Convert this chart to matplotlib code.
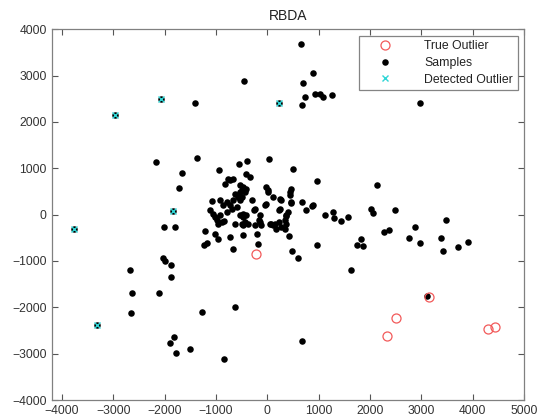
import matplotlib
matplotlib.use("Agg")
import matplotlib.pyplot as plt

plt.rcParams['font.family'] = ['Liberation Sans', 'DejaVu Sans']

# Projected samples (x, y)
sample_x = [
    -1400, -450, 650, 880, 700, 740, 670, 920, 1020, 1080, 1250, 2980,
    -2170, -1380, -1660, -1720, -945, -556, -390, 33, 500, 967, 2134,
    -2020, -1790, -2040, -1990, -1873, -1873, -2683, -2632, -2107, -2663,
    -1276, -640, -1815, -1900, -1788, -1510, -854, 670, 3115,
    1623, 591, 481, 416, 975, 1751, 1862, 1817, 2265, 2368, 2757, 2881,
    2965, 3387, 3426, 3471, 3710, 3905, 2019, 2057, 2479, 1117, 1278, 1298,
    1428, 1571, 877, 747, 468, 675, 889,
    -1218, -1023, -959, -1232, -1173, -732, -660, -473, -180, -212,
    -842, -634, -473,
    -1088, -926, -862, -796, -732, -667, -570, -537, -634,
    -1121, -1056, -1023, -990, -959, -893, -926,
    -796, -698, -601, -537, -473,
    -504, -537, -309, 14, 111, 241, 436, 469, -51, -18, 241, 403, 371,
    -245, -473, -407, -440, -504, -375, -245, -148, -115, 79, 111, 228,
    274, 339, 371,
    -764, -667, -732, -829, -407, -342, -537, -473, -407, -440, -504,
    -18, 14, 469, 436,
    -260, -148, -160, 228, 358, 339, 47, 144, 177, 274,
    -3770, -3320, -1835, -2970, -2080, 230,
]
sample_y = [
    2420, 2880, 3680, 3050, 2840, 2535, 2370, 2600, 2610, 2550, 2590, 2410,
    1130, 1225, 900, 570, 970, 1085, 1150, 1200, 990, 735, 646,
    -267, -267, -930, -990, -1086, -1345, -1200, -1696, -1696, -2112,
    -2090, -2000, -2644, -2767, -2983, -2903, -3119, -2720, -1761,
    -1200, -942, -784, -453, -662, -662, -683, -526, -381, -332, -496, -267,
    -618, -496, -784, -108, -690, -597, 114, 34, 108, -9, 56, -65,
    -144, -52, 194, 108, 244, 280, 216,
    -360, -425, -532, -662, -612, -482, -733, -440, -625, -410,
    -138, -194, -231,
    287, 308, 200, 272, 200, 308, 379, 487, 453,
    93, 22, -52, -123, -194, -160, -15,
    56, 129, 164, -15, 22,
    379, 308, 323, 487, 379, 345, 416, 272, 200, 239, 129, 56, -15,
    129, -52, -15, -160, -194, -194, -231, -160, -231, -194, -231, -160,
    -267, -302, -194,
    776, 776, 739, 668, 884, 810, 631, 595, 560, 487, 524,
    595, 524, 560, 487,
    108, -15, -108, 93, -37, -123, -194, -194, -310, 308,
    -320, -2390, 86, 2160, 2490, 2420,
]

# Ground-truth outliers
true_x = [-230, 2330, 2500, 3146, 4294, 4424]
true_y = [-850, -2620, -2230, -1767, -2478, -2435]

# Outliers flagged by RBDA
detected_x = [-3770, -3320, -1835, -2970, -2080, 230]
detected_y = [-320, -2390, 86, 2160, 2490, 2420]

x_ticks = [-4000, -3000, -2000, -1000, 0, 1000, 2000, 3000, 4000, 5000]
y_ticks = [-4000, -3000, -2000, -1000, 0, 1000, 2000, 3000, 4000]

fig = plt.figure(figsize=(5.41, 4.20), dpi=100)
ax = fig.add_axes([0.0955, 0.0476, 0.8735, 0.8826])

ax.plot(true_x, true_y, linestyle='none', marker='o', markersize=6.5,
        markerfacecolor='none', markeredgecolor='#f25a5a', markeredgewidth=0.9,
        label='True Outlier', zorder=3)
ax.plot(sample_x, sample_y, linestyle='none', marker='o', markersize=4.7,
        color='black', markeredgewidth=0, label='Samples', zorder=2)
ax.plot(detected_x, detected_y, linestyle='none', marker='x', markersize=5,
        color='#2fd6d6', markeredgewidth=1.0, label='Detected Outlier', zorder=4)

ax.set_xlim(-4200, 5000)
ax.set_ylim(-4000, 4000)
ax.set_xticks(x_ticks)
ax.set_yticks(y_ticks)
ax.tick_params(direction='in', top=True, right=True, length=4, width=0.8,
               colors='#555555', labelsize=8.7, labelcolor='#333333')
for s in ax.spines.values():
    s.set_color('#808080')
    s.set_linewidth(0.9)

ax.set_title('RBDA', fontsize=10, color='#222222', pad=7)

leg = ax.legend(loc='upper right', fontsize=8.8, frameon=True, fancybox=False,
                edgecolor='#666666', borderpad=0.35, labelspacing=0.38,
                handletextpad=1.4, handlelength=3.6, borderaxespad=0.55)
leg.get_frame().set_linewidth(0.9)
for t in leg.get_texts():
    t.set_color('#222222')

fig.savefig('out.png', dpi=100)
